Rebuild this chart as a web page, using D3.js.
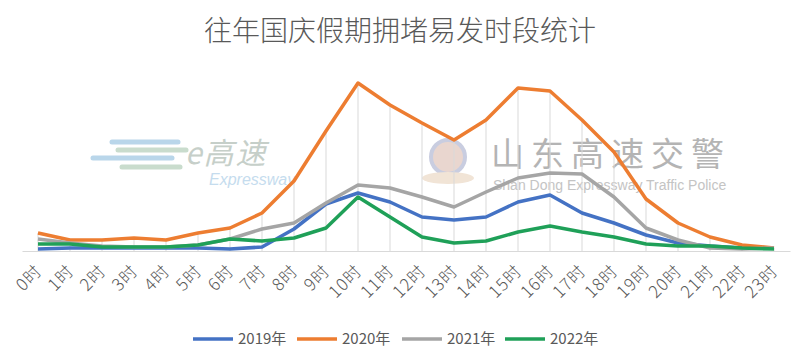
<!DOCTYPE html>
<html>
<head>
<meta charset="utf-8">
<script src="https://cdn.jsdelivr.net/npm/d3@7"></script>
<style>
  body { margin: 0; background: #fff; }
  text { font-family: "Noto Sans CJK SC", "Noto Sans", sans-serif; }
</style>
</head>
<body>
<div id="chart"></div>
<script>
var hours = ["0时","1时","2时","3时","4时","5时","6时","7时","8时","9时","10时","11时",
             "12时","13时","14时","15时","16时","17时","18时","19时","20时","21时","22时","23时"];

var years = ["2019年", "2020年", "2021年", "2022年"];

var v2019 = [2, 3, 3, 3, 3, 3, 2, 4, 22, 47, 58, 49, 34, 31, 34, 49, 56, 38, 28, 16, 8, 5, 3, 3];
var v2020 = [18, 11, 11, 13, 11, 18, 23, 38, 70, 120, 168, 146, 128, 111, 131, 163, 160, 131, 99, 52, 28, 14, 6, 3];
var v2021 = [12, 8, 5, 4, 4, 6, 12, 22, 28, 48, 66, 63, 54, 44, 59, 73, 78, 77, 54, 23, 11, 3, 2, 3];
var v2022 = [7, 7, 4, 4, 4, 6, 12, 10, 13, 23, 54, 34, 14, 8, 10, 19, 25, 19, 14, 7, 5, 5, 3, 2];

var colors = ["#4472C4", "#ED7D31", "#A5A5A5", "#1FA058"];

var W = 807, H = 362;
var svg = d3.select("#chart").append("svg")
    .attr("width", W)
    .attr("height", H);

// title
svg.append("text")
    .attr("x", 400)
    .attr("y", 41)
    .attr("text-anchor", "middle")
    .style("font-size", "28px")
    .style("font-weight", 300)
    .style("fill", "#595959")
    .text("往年国庆假期拥堵易发时段统计");

var x = d3.scaleBand().domain(hours).range([22, 790]);
var y = d3.scaleLinear().domain([0, 170]).range([251, 81]);
var cx = function(d) { return x(d) + x.bandwidth() / 2; };

// watermarks (faint, behind the chart)
var wm = svg.append("g").attr("class", "watermark");
[[142, "#b9d6ea", 112, 178], [150, "#c9dccd", 118, 186], [158, "#b9d6ea", 93, 172], [167, "#c9dccd", 122, 180]]
    .forEach(function(s) {
        wm.append("line")
            .attr("x1", s[2]).attr("x2", s[3])
            .attr("y1", s[0]).attr("y2", s[0])
            .attr("stroke", s[1]).attr("stroke-width", 5)
            .attr("stroke-linecap", "round");
    });
wm.append("text")
    .attr("x", 185).attr("y", 164)
    .style("font-size", "30px")
    .style("font-style", "italic")
    .style("letter-spacing", "2px")
    .style("fill", "#c6cfc9")
    .text("e高速");
wm.append("text")
    .attr("x", 209).attr("y", 185)
    .style("font-size", "16px")
    .style("font-style", "italic")
    .style("font-family", "Liberation Sans, sans-serif")
    .style("fill", "#c5dcee")
    .text("Expressway");
wm.append("circle")
    .attr("cx", 448).attr("cy", 157).attr("r", 17)
    .attr("fill", "#e9d6cf").attr("stroke", "#c9cde0").attr("stroke-width", 4);
wm.append("ellipse")
    .attr("cx", 448).attr("cy", 178).attr("rx", 26).attr("ry", 6)
    .attr("fill", "#f1e4d6");
wm.append("text")
    .attr("x", 491).attr("y", 166)
    .style("font-size", "33px")
    .style("letter-spacing", "7px")
    .style("fill", "#b4b4b4")
    .text("山东高速交警");
wm.append("text")
    .attr("x", 493).attr("y", 190)
    .style("font-size", "14px")
    .style("font-family", "Liberation Sans, sans-serif")
    .style("fill", "#c4c4c4")
    .text("Shan Dong Expressway Traffic Police");

var series = [v2019, v2020, v2021, v2022];

// drop lines from the highest series down to the axis
var maxes = hours.map(function(h, i) {
    return d3.max(series, function(s) { return s[i]; });
});
svg.append("g").selectAll("line")
    .data(hours)
    .enter().append("line")
    .attr("x1", function(d) { return cx(d); })
    .attr("x2", function(d) { return cx(d); })
    .attr("y1", function(d, i) { return y(maxes[i]); })
    .attr("y2", y(0))
    .attr("stroke", "#d9d9d9")
    .attr("stroke-width", 1);

// axis
var xAxis = svg.append("g")
    .attr("transform", "translate(0," + y(0) + ")")
    .call(d3.axisBottom(x).tickSize(0).tickFormat(""));
xAxis.select(".domain").attr("stroke", "#d9d9d9");

svg.append("g").selectAll("text")
    .data(hours)
    .enter().append("text")
    .attr("transform", function(d) {
        return "translate(" + (cx(d) - 4) + ",263) rotate(-45)";
    })
    .attr("text-anchor", "end")
    .attr("dy", "0.75em")
    .style("font-size", "17px")
    .style("font-weight", 300)
    .style("letter-spacing", "1px")
    .style("fill", "#595959")
    .text(function(d) { return d; });

// lines
var line = d3.line()
    .x(function(d, i) { return cx(hours[i]); })
    .y(function(d) { return y(d); });

svg.append("g").selectAll("path")
    .data(series)
    .enter().append("path")
    .attr("d", line)
    .attr("fill", "none")
    .attr("stroke", function(d, i) { return colors[i]; })
    .attr("stroke-width", 3.5)
    .attr("stroke-linejoin", "round");

// legend
var legendX = [193, 297, 402, 505];
var legend = svg.append("g").selectAll("g")
    .data(years)
    .enter().append("g")
    .attr("transform", function(d, i) { return "translate(" + legendX[i] + ",339)"; });
legend.append("line")
    .attr("x1", 0).attr("x2", 40)
    .attr("stroke", function(d, i) { return colors[i]; })
    .attr("stroke-width", 3.5);
legend.append("text")
    .attr("x", 45)
    .attr("dy", "0.35em")
    .style("font-size", "15px")
    .style("fill", "#595959")
    .text(function(d) { return d; });
</script>
</body>
</html>
